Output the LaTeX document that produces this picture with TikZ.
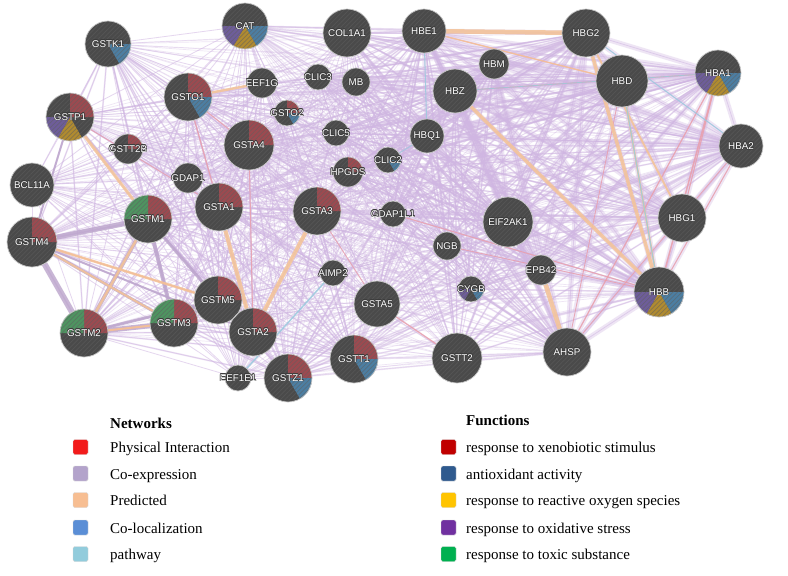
\documentclass[tikz,border=0pt]{standalone}
\usepackage{fontspec}
\setmainfont{Liberation Serif}
\newfontfamily\labelfont{Liberation Sans}
\usetikzlibrary{patterns.meta,backgrounds}
\definecolor{nodegray}{HTML}{4A4A4A}
\definecolor{stripecol}{HTML}{606060}
\definecolor{nodeborder}{HTML}{C8C8C8}
\definecolor{outlinecol}{HTML}{3C3C3C}
\definecolor{sred}{HTML}{9C4A50}
\definecolor{sblue}{HTML}{4C7EA2}
\definecolor{sgold}{HTML}{B08B30}
\definecolor{spurple}{HTML}{6E5D9A}
\definecolor{sgreen}{HTML}{4E9460}
\definecolor{coexpcol}{HTML}{D0B6E2}
\definecolor{physcol}{HTML}{EE9CA4}
\definecolor{predcol}{HTML}{F5C496}
\definecolor{pathcol}{HTML}{98CCDE}
\definecolor{lgred}{HTML}{F21B1B}
\definecolor{lglav}{HTML}{B3A3CB}
\definecolor{lgorange}{HTML}{F7BE92}
\definecolor{lgblue}{HTML}{5A8ED6}
\definecolor{lgcyan}{HTML}{92CCDC}
\definecolor{fnred}{HTML}{C00000}
\definecolor{fnblue}{HTML}{2F5A8E}
\definecolor{fnyellow}{HTML}{FFC400}
\definecolor{fnpurple}{HTML}{7030A0}
\definecolor{fngreen}{HTML}{00B050}
\newcommand\pieslice[5]{\fill[#5] (#1.center) -- ++(#3:#2pt) arc[start angle=#3,end angle=#4,radius=#2pt] -- cycle;}
\newcommand\sR[2]{\pieslice{#1}{#2}{90}{0}{sred}}
\newcommand\sB[2]{\pieslice{#1}{#2}{0}{-60}{sblue}}
\newcommand\sG[2]{\pieslice{#1}{#2}{-60}{-120}{sgold}}
\newcommand\sP[2]{\pieslice{#1}{#2}{-120}{-180}{spurple}}
\newcommand\sN[2]{\pieslice{#1}{#2}{180}{90}{sgreen}}
\def\GL{GSTK1,GSTP1,GSTO1,GSTT2B,GSTA4,GDAP1,BCL11A,GSTM4,GSTM1,GSTA1,GSTM2,GSTM3,GSTM5,GSTA2,EEF1E1,GSTZ1,GSTT1,GSTA3,GSTA5,AIMP2,CAT,EEF1G,GSTO2}
\def\HL{HBE1,HBM,HBZ,HBQ1,HBG2,HBD,HBA1,HBA2,HBG1,HBB,AHSP,EPB42,EIF2AK1,NGB,CYGB,CLIC2,GDAP1L1,HPGDS,CLIC5,CLIC3,MB,COL1A1,GSTT2}
\def\HC{HBE1,HBZ,HBG2,HBD,HBA1,HBA2,HBG1,HBB,AHSP,EPB42,HBQ1,HBM,EIF2AK1}
\def\MC{GSTA1,GSTA3,GSTA4,GSTO1,GSTA5,GSTT2,GSTT1,GSTZ1,NGB,CYGB,GDAP1L1,CLIC2,HPGDS,CLIC5,MB,CLIC3,COL1A1,CAT}
\def\GC{GSTP1,GSTO1,GSTA4,GSTM4,GSTM1,GSTA1,GSTM2,GSTM3,GSTM5,GSTA2,GSTA3,GSTT1,GSTZ1,GSTK1}
\def\ALLN{GSTK1/108/44/23,CAT/245/26/23,COL1A1/347/33/24,CLIC3/318/77/13,MB/356/82/14,EEF1G/262/83/15,GSTO1/188/97/24,GSTO2/287/113/13,GSTP1/70/117/24,GSTT2B/128/149/15,GSTA4/249/145/25,CLIC5/336/133/13,HPGDS/348/172/15,CLIC2/388/160/13,GDAP1/188/178/15,BCL11A/32/185/22,HBE1/424/31/22,HBM/494/64/15,HBZ/455/91/22,HBQ1/427/136/17,HBG2/586/33/24,HBD/622/81/26,HBA1/718/73/23,HBA2/741/146/22,GSTM4/32/242/25,GSTM1/148/219/24,GSTA1/219/207/24,GSTA3/317/211/24,GDAP1L1/393/214/13,AIMP2/333/273/13,GSTM5/218/300/24,GSTA5/377/304/23,GSTM2/84/333/24,GSTM3/174/323/24,GSTA2/253/332/24,GSTT1/354/359/24,EEF1E1/238/378/13,GSTZ1/288/378/24,EIF2AK1/508/222/25,NGB/447/246/14,EPB42/541/270/15,CYGB/471/289/13,HBG1/682/218/24,HBB/659/292/25,GSTT2/457/358/25,AHSP/567/352/24}
\begin{document}
\begin{tikzpicture}[x=1pt,y=1pt,
  gene/.style={circle,inner sep=0pt,fill=nodegray},
  genelabel/.style={inner sep=0pt,text=white,font=\labelfont\fontsize{9.8}{10}\selectfont},
  geneoutline/.style={inner sep=0pt,text=outlinecol,font=\labelfont\fontsize{9.8}{10}\selectfont},
  coexp/.style={draw=coexpcol,line width=0.8pt,opacity=0.55},
  coexpfaint/.style={draw=coexpcol,line width=0.7pt,opacity=0.35},
  coexpcore/.style={draw=coexpcol,line width=5pt,opacity=0.35},
  coexpmid/.style={draw=coexpcol,line width=1.6pt,opacity=0.35},
  coexpthick/.style={draw=coexpcol!90!black,opacity=0.8},
  phys/.style={draw=physcol,opacity=0.75},
  pred/.style={draw=predcol,opacity=0.85},
  pathw/.style={draw=pathcol,opacity=0.8},
  legsq/.style={rectangle,rounded corners=1.5pt,minimum size=15pt,inner sep=0pt,draw=white!85!black,line width=0.4pt},
  legtext/.style={anchor=base west,inner sep=0pt,font=\fontsize{15}{17}\selectfont},
  leghead/.style={anchor=base west,inner sep=0pt,font=\bfseries\fontsize{15}{17}\selectfont}]
\useasboundingbox (0,0) rectangle (788,-576);
% nodes
\foreach \n/\x/\y/\r in \ALLN {\node[gene,minimum size={2*\r pt}] (\n) at (\x,-\y) {};}
% function slices
\foreach \n/\r in {GSTO1/24,GSTP1/24,GSTT2B/15,GSTA4/25,HPGDS/15,GSTO2/13,GSTM4/25,GSTM1/24,GSTA1/24,GSTA3/24,GSTM5/24,GSTM2/24,GSTM3/24,GSTA2/24,GSTT1/24,GSTZ1/24}{\sR{\n}{\r}}
\foreach \n/\r in {GSTK1/23,CAT/23,GSTO1/24,GSTO2/13,CLIC2/13,HBA1/23,HBB/25,CYGB/13,GSTT1/24,GSTZ1/24}{\sB{\n}{\r}}
\foreach \n/\r in {CAT/23,GSTP1/24,HBA1/23,HBB/25}{\sG{\n}{\r}}
\foreach \n/\r in {CAT/23,GSTP1/24,HBA1/23,HBB/25,CYGB/13}{\sP{\n}{\r}}
\foreach \n/\r in {GSTM1/24,GSTM2/24,GSTM3/24}{\sN{\n}{\r}}
% stripes, border
\foreach \n/\x/\y/\r in \ALLN {
  \fill[pattern={Lines[angle=45,distance=3.2pt,line width=0.7pt]},pattern color=stripecol,opacity=0.55] (\n.center) circle[radius=\r pt];
  \draw[nodeborder,line width=0.7pt] (\n.center) circle[radius=\r pt];
}
% labels with dark outline
\foreach \n/\x/\y/\r in \ALLN {
  \foreach \dx/\dy [count=\k] in {0.6/0,-0.6/0,0/0.6,0/-0.6,0.45/0.45,-0.45/0.45,0.45/-0.45,-0.45/-0.45}{
    \node[geneoutline] (\n-o\k) at ([shift={(\dx,\dy)}]\n.center) {\n};
  }
  \node[genelabel] (\n-l) at (\n.center) {\n};
}
% connectors
\begin{pgfonlayer}{background}
\fill[white] (0,0) rectangle (788,-576);
\foreach \a in \GL {\foreach \b in \HL {\draw[coexpfaint] (\a) -- (\b);}}
\foreach \a in \HC {\foreach \b in \MC {\draw[coexpmid] (\a) -- (\b);}}
\foreach \a [count=\i] in \GL {\foreach \b [count=\j] in \GL {\ifnum\j>\i \draw[coexp] (\a) -- (\b);\fi}}
\foreach \a [count=\i] in \GC {\foreach \b [count=\j] in \GC {\ifnum\j>\i \draw[coexpmid] (\a) -- (\b);\fi}}
\foreach \a [count=\i] in \HL {\foreach \b [count=\j] in \HL {\ifnum\j>\i \draw[coexp] (\a) -- (\b);\fi}}
\foreach \a [count=\i] in \HC {\foreach \b [count=\j] in \HC {\ifnum\j>\i \draw[coexpcore] (\a) -- (\b);\fi}}
\foreach \a/\b/\w in {GSTM4/GSTM2/6,GSTM4/GSTM1/5,GSTM1/GSTM2/4,GSTM1/GSTM3/4,GSTM2/GSTM3/5,GSTM4/GSTM3/3,GSTM3/GSTM5/3,GSTM2/GSTM5/3,GSTM1/GSTM5/3,GSTP1/GSTM4/2,GSTM4/GSTA2/2}{\draw[coexpthick,line width=\w pt] (\a) -- (\b);}
\foreach \a/\b/\w in {HBA1/HBB/1.5,HBA1/AHSP/1.2,HBA1/HBG1/1,HBA2/HBB/1,HBZ/HBA1/1,HBE1/HBD/1,GDAP1L1/HBB/1,NGB/HBB/0.8,GSTA5/GSTT2/1.2,GSTO1/GSTA1/1.2,GSTO1/GSTA4/1,GSTA4/GSTA2/1,GSTA3/GSTA5/0.8,GSTM2/GSTM3/1.5,GSTM4/GSTM5/1.2,GSTP1/GSTA1/0.8,HBD/AHSP/0.8,HBA2/AHSP/0.8}{\draw[phys,line width=\w pt] (\a) -- (\b);}
\foreach \a/\b/\w in {HBE1/HBG2/4.5,HBG2/HBB/3.5,HBG2/HBG1/2,HBD/HBB/2,HBZ/HBB/3.5,EPB42/AHSP/4.5,HBE1/HBD/1.2,GSTP1/GSTM1/3,GSTO1/EEF1G/2.5,GSTA1/GSTA2/4,GSTA3/GSTA2/4,GSTM4/GSTM5/2.5,GSTM4/GSTM3/2,GSTM1/GSTM2/2.5,GSTM2/GSTM3/2}{\draw[pred,line width=\w pt] (\a) -- (\b);}
\foreach \a/\b/\w in {EEF1E1/AIMP2/1.5,HBD/HBB/1.2,HBE1/HBQ1/1,HBG2/HBA2/1,HBZ/HBA1/0.8,CLIC2/HBQ1/0.8}{\draw[pathw,line width=\w pt] (\a) -- (\b);}
\end{pgfonlayer}
% legend
\node[leghead] (nethead) at (110,-428) {Networks};
\node[leghead] (funhead) at (466,-425) {Functions};
\foreach \c/\t/\y [count=\k] in {lgred/Physical Interaction/447,lglav/Co-expression/473.5,lgorange/Predicted/500,lgblue/Co-localization/527.5,lgcyan/pathway/554}{
  \node[legsq,fill=\c] (nsq\k) at (80.5,-\y) {};
  \node[legtext] (ntx\k) at (110,-\y-5.5) {\t};
}
\foreach \c/\t/\y [count=\k] in {fnred/response to xenobiotic stimulus/447,fnblue/antioxidant activity/473.5,fnyellow/response to reactive oxygen species/500,fnpurple/response to oxidative stress/527.5,fngreen/response to toxic substance/554}{
  \node[legsq,fill=\c] (fsq\k) at (448.5,-\y) {};
  \node[legtext] (ftx\k) at (466,-\y-5.5) {\t};
}
\end{tikzpicture}
\end{document}
